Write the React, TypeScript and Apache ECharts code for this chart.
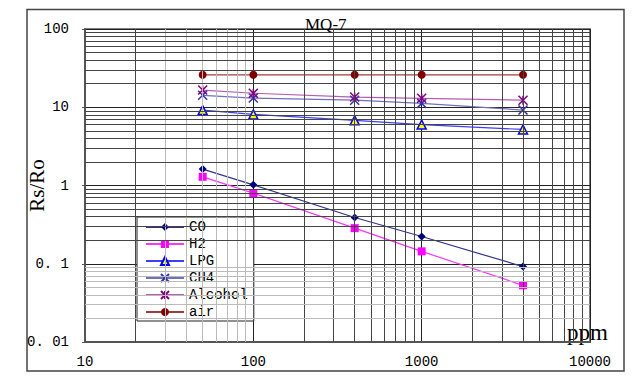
import React, { useEffect, useRef } from "react";
import * as echarts from "echarts";

const xValues = [50, 100, 400, 1000, 4000];
const co = [1.62, 1.02, 0.39, 0.223, 0.092];
const h2 = [1.29, 0.8, 0.285, 0.144, 0.053];
const lpg = [9.2, 8.1, 6.8, 6.0, 5.2];
const ch4 = [14.2, 13.1, 12.3, 11.2, 9.2];
const alcohol = [16.6, 15.1, 13.5, 13.0, 12.3];
const air = [26, 26, 26, 26, 26];

const seriesNames = ["CO", "H2", "LPG", "CH4", "Alcohol", "air"];
const yTickLabels = ["0. 01", "0. 1", "1", "10", "100"];
const xDecades = [10, 100, 1000];
const yDecades = [0.01, 0.1, 1, 10];
const minorSteps = [2, 3, 4, 5, 6, 7, 8, 9];

const pairs = (ys: number[]) => xValues.map((x, i) => [x, ys[i]]);

export default function App() {
  const ref = useRef<HTMLDivElement>(null);
  useEffect(() => {
    if (!ref.current) return;
    const chart = echarts.init(ref.current, undefined, { renderer: "svg" });

    const minorDark = { color: "#444", width: 1, type: "solid" as const };
    const minorLight = { color: "#bbb", width: 1, type: "solid" as const };

    const gridMarks: any[] = [];
    xDecades.forEach((d) => {
      minorSteps.forEach((s) => {
        const light = d === 10 && s >= 3;
        gridMarks.push({ xAxis: d * s, lineStyle: light ? minorLight : minorDark });
      });
    });
    yDecades.forEach((d) => {
      minorSteps.forEach((s) => {
        const light = d === 0.01;
        gridMarks.push({ yAxis: +(d * s).toPrecision(3), lineStyle: light ? minorLight : minorDark });
      });
    });

    const base = {
      type: "line" as const,
      showSymbol: true,
      symbolSize: 8,
      z: 3,
    };

    chart.setOption({
      animation: false,
      backgroundColor: "#fff",
      title: {
        text: "MQ-7",
        left: 300,
        top: 11,
        textStyle: { fontFamily: "Liberation Serif", fontSize: 17, fontWeight: "normal", color: "#000" },
      },
      grid: {
        left: 85,
        right: 44,
        top: 29,
        bottom: 36,
        containLabel: false,
        outerBoundsMode: "none",
        show: true,
        borderColor: "#555",
        borderWidth: 1.5,
      },
      xAxis: {
        type: "log",
        logBase: 10,
        min: 10,
        max: 10000,
        axisLine: { show: true, lineStyle: { color: "#555", width: 2 } },
        axisTick: { show: false },
        axisLabel: {
          margin: 13,
          fontFamily: "Liberation Mono",
          fontSize: 14,
          color: "#000",
          formatter: (v: number) => String(Math.round(v)),
        },
        splitLine: { show: true, lineStyle: { color: "#222", width: 1 } },
      },
      yAxis: {
        type: "log",
        logBase: 10,
        min: 0.01,
        max: 100,
        name: "Rs/Ro",
        nameLocation: "middle",
        nameRotate: 90,
        nameGap: 38,
        nameMoveOverlap: false,
        nameTextStyle: { fontFamily: "Liberation Serif", fontSize: 21, color: "#000" },
        axisLine: { show: true, lineStyle: { color: "#555", width: 2 } },
        axisTick: { show: true, length: 3, lineStyle: { color: "#555" } },
        axisLabel: {
          margin: 16,
          fontFamily: "Liberation Mono",
          fontSize: 14,
          color: "#000",
          formatter: (v: number) => yTickLabels[Math.round(Math.log10(v)) + 2] ?? "",
        },
        splitLine: { show: true, lineStyle: { color: "#222", width: 1 } },
      },
      legend: {
        data: seriesNames,
        orient: "vertical",
        left: 137,
        top: 217,
        padding: [3, 6, 2, 8],
        itemWidth: 38,
        itemHeight: 10,
        itemGap: 3,
        backgroundColor: "#fff",
        borderColor: "#222",
        borderWidth: 1,
        textStyle: { fontFamily: "Liberation Mono", fontSize: 14, lineHeight: 14, color: "#000" },
      },
      graphic: [
        {
          type: "rect",
          shape: { x: 27, y: 9.5, width: 597, height: 361.5 },
          style: { fill: "none", stroke: "#444", lineWidth: 1.5 },
          silent: true,
        },
        {
          type: "text",
          left: 567,
          top: 321,
          style: { text: "ppm", fontFamily: "Liberation Serif", fontSize: 23, fill: "#000" },
        },
      ],
      series: [
        {
          type: "line",
          data: [],
          z: 1,
          silent: true,
          markLine: {
            silent: true,
            symbol: "none",
            label: { show: false },
            emphasis: { disabled: true },
            animation: false,
            data: gridMarks,
          },
        },
        {
          ...base,
          name: "CO",
          data: pairs(co),
          symbol: "diamond",
          symbolSize: 8,
          itemStyle: { color: "#000080" },
          lineStyle: { color: "#33338f", width: 1.2 },
        },
        {
          ...base,
          name: "H2",
          data: pairs(h2),
          symbol: "rect",
          symbolSize: 8,
          itemStyle: { color: "#ff00ff" },
          lineStyle: { color: "#ff33ff", width: 1.2 },
        },
        {
          ...base,
          name: "LPG",
          data: pairs(lpg),
          symbol: "triangle",
          symbolSize: 9,
          itemStyle: { color: "#ffff00", borderColor: "#0000ff", borderWidth: 1.5 },
          lineStyle: { color: "#3d3dff", width: 1.2 },
        },
        {
          ...base,
          name: "CH4",
          data: pairs(ch4),
          symbol: "path://M0,0L10,10M10,0L0,10",
          symbolSize: 9,
          itemStyle: { color: "#3333aa", borderColor: "#3333aa", borderWidth: 1.5 },
          lineStyle: { color: "#7070c0", width: 1.2 },
        },
        {
          ...base,
          name: "Alcohol",
          data: pairs(alcohol),
          symbol: "path://M0,0L10,10M10,0L0,10M5,0L5,10",
          symbolSize: 9,
          itemStyle: { color: "#800080", borderColor: "#800080", borderWidth: 1.5 },
          lineStyle: { color: "#b55db5", width: 1.2 },
        },
        {
          ...base,
          name: "air",
          data: pairs(air),
          symbol: "circle",
          symbolSize: 8,
          itemStyle: { color: "#800000" },
          lineStyle: { color: "#a23c3c", width: 1.2 },
        },
      ],
    });
    return () => chart.dispose();
  }, []);
  return (
    <div
      ref={ref}
      style={{ position: "fixed", left: 0, top: 0, width: 634, height: 378 }}
    />
  );
}
